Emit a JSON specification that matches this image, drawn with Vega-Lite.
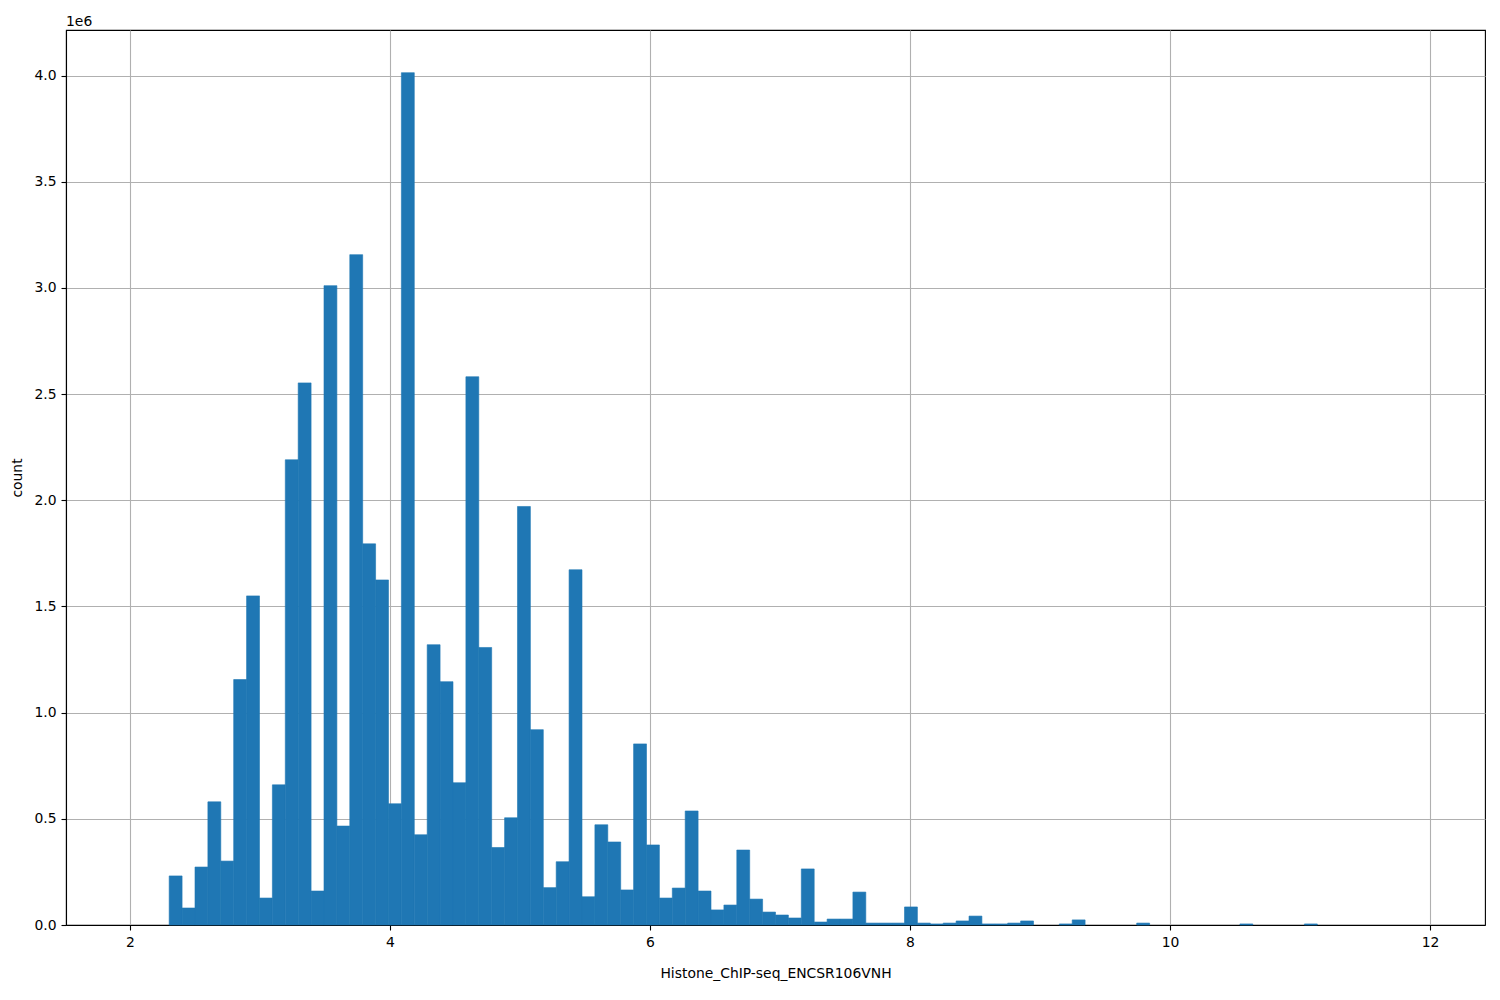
{
  "$schema": "https://vega.github.io/schema/vega-lite/v6.json",
  "width": 1419,
  "height": 895,
  "autosize": {"type": "none"},
  "padding": {"left": 66, "top": 30, "right": 15, "bottom": 75},
  "background": "white",
  "title": {"text": "1e6", "anchor": "start", "frame": "group", "orient": "top", "baseline": "bottom", "offset": -13, "font": "DejaVu Sans", "fontSize": 13.9, "fontWeight": "normal", "color": "black"},
  "config": {
    "view": {"stroke": "black", "strokeWidth": 1.1},
    "axis": {
      "labelFont": "DejaVu Sans", "titleFont": "DejaVu Sans",
      "labelFontSize": 13.9, "titleFontSize": 13.9,
      "labelColor": "black", "titleColor": "black", "titleFontWeight": "normal",
      "grid": true, "gridColor": "#b0b0b0", "gridWidth": 1.1,
      "tickColor": "black", "tickSize": 5, "tickWidth": 1.1,
      "domain": true, "domainColor": "black", "domainWidth": 1.1,
      "labelPadding": 5, "labelFlush": false, "labelOverlap": false, "zindex": 1
    }
  },
  "data": {"values": [
    {"bin_start": 2.3017, "bin_end": 2.4009, "count": 231000},
    {"bin_start": 2.4009, "bin_end": 2.5002, "count": 80000},
    {"bin_start": 2.5002, "bin_end": 2.5994, "count": 273000},
    {"bin_start": 2.5994, "bin_end": 2.6986, "count": 580000},
    {"bin_start": 2.6986, "bin_end": 2.7978, "count": 301000},
    {"bin_start": 2.7978, "bin_end": 2.8971, "count": 1156000},
    {"bin_start": 2.8971, "bin_end": 2.9963, "count": 1550000},
    {"bin_start": 2.9963, "bin_end": 3.0955, "count": 127000},
    {"bin_start": 3.0955, "bin_end": 3.1948, "count": 660000},
    {"bin_start": 3.1948, "bin_end": 3.2940, "count": 2191000},
    {"bin_start": 3.2940, "bin_end": 3.3932, "count": 2553000},
    {"bin_start": 3.3932, "bin_end": 3.4925, "count": 160000},
    {"bin_start": 3.4925, "bin_end": 3.5917, "count": 3011000},
    {"bin_start": 3.5917, "bin_end": 3.6909, "count": 466000},
    {"bin_start": 3.6909, "bin_end": 3.7901, "count": 3157000},
    {"bin_start": 3.7901, "bin_end": 3.8894, "count": 1795000},
    {"bin_start": 3.8894, "bin_end": 3.9886, "count": 1625000},
    {"bin_start": 3.9886, "bin_end": 4.0878, "count": 571000},
    {"bin_start": 4.0878, "bin_end": 4.1871, "count": 4014000},
    {"bin_start": 4.1871, "bin_end": 4.2863, "count": 425000},
    {"bin_start": 4.2863, "bin_end": 4.3855, "count": 1320000},
    {"bin_start": 4.3855, "bin_end": 4.4848, "count": 1146000},
    {"bin_start": 4.4848, "bin_end": 4.5840, "count": 670000},
    {"bin_start": 4.5840, "bin_end": 4.6832, "count": 2582000},
    {"bin_start": 4.6832, "bin_end": 4.7824, "count": 1307000},
    {"bin_start": 4.7824, "bin_end": 4.8817, "count": 365000},
    {"bin_start": 4.8817, "bin_end": 4.9809, "count": 505000},
    {"bin_start": 4.9809, "bin_end": 5.0801, "count": 1971000},
    {"bin_start": 5.0801, "bin_end": 5.1794, "count": 920000},
    {"bin_start": 5.1794, "bin_end": 5.2786, "count": 176000},
    {"bin_start": 5.2786, "bin_end": 5.3778, "count": 298000},
    {"bin_start": 5.3778, "bin_end": 5.4771, "count": 1673000},
    {"bin_start": 5.4771, "bin_end": 5.5763, "count": 133000},
    {"bin_start": 5.5763, "bin_end": 5.6755, "count": 472000},
    {"bin_start": 5.6755, "bin_end": 5.7747, "count": 391000},
    {"bin_start": 5.7747, "bin_end": 5.8740, "count": 165000},
    {"bin_start": 5.8740, "bin_end": 5.9732, "count": 853000},
    {"bin_start": 5.9732, "bin_end": 6.0724, "count": 377000},
    {"bin_start": 6.0724, "bin_end": 6.1717, "count": 127000},
    {"bin_start": 6.1717, "bin_end": 6.2709, "count": 174000},
    {"bin_start": 6.2709, "bin_end": 6.3701, "count": 537000},
    {"bin_start": 6.3701, "bin_end": 6.4694, "count": 160000},
    {"bin_start": 6.4694, "bin_end": 6.5686, "count": 71000},
    {"bin_start": 6.5686, "bin_end": 6.6678, "count": 94000},
    {"bin_start": 6.6678, "bin_end": 6.7670, "count": 353000},
    {"bin_start": 6.7670, "bin_end": 6.8663, "count": 122000},
    {"bin_start": 6.8663, "bin_end": 6.9655, "count": 61000},
    {"bin_start": 6.9655, "bin_end": 7.0647, "count": 47000},
    {"bin_start": 7.0647, "bin_end": 7.1640, "count": 33000},
    {"bin_start": 7.1640, "bin_end": 7.2632, "count": 264000},
    {"bin_start": 7.2632, "bin_end": 7.3624, "count": 14000},
    {"bin_start": 7.3624, "bin_end": 7.4617, "count": 28000},
    {"bin_start": 7.4617, "bin_end": 7.5609, "count": 28000},
    {"bin_start": 7.5609, "bin_end": 7.6601, "count": 155000},
    {"bin_start": 7.6601, "bin_end": 7.7593, "count": 9000},
    {"bin_start": 7.7593, "bin_end": 7.8586, "count": 9000},
    {"bin_start": 7.8586, "bin_end": 7.9578, "count": 9000},
    {"bin_start": 7.9578, "bin_end": 8.0570, "count": 85000},
    {"bin_start": 8.0570, "bin_end": 8.1563, "count": 9000},
    {"bin_start": 8.1563, "bin_end": 8.2555, "count": 5000},
    {"bin_start": 8.2555, "bin_end": 8.3547, "count": 9000},
    {"bin_start": 8.3547, "bin_end": 8.4540, "count": 19000},
    {"bin_start": 8.4540, "bin_end": 8.5532, "count": 42000},
    {"bin_start": 8.5532, "bin_end": 8.6524, "count": 5000},
    {"bin_start": 8.6524, "bin_end": 8.7516, "count": 5000},
    {"bin_start": 8.7516, "bin_end": 8.8509, "count": 9000},
    {"bin_start": 8.8509, "bin_end": 8.9501, "count": 19000},
    {"bin_start": 9.1486, "bin_end": 9.2478, "count": 5000},
    {"bin_start": 9.2478, "bin_end": 9.3470, "count": 24000},
    {"bin_start": 9.7439, "bin_end": 9.8432, "count": 9000},
    {"bin_start": 10.5378, "bin_end": 10.6370, "count": 5000},
    {"bin_start": 11.0339, "bin_end": 11.1332, "count": 5000}
  ]},
  "mark": {"type": "bar", "color": "#1f77b4", "stroke": "#1f77b4", "strokeWidth": 0.6},
  "encoding": {
    "x": {
      "field": "bin_start", "type": "quantitative",
      "scale": {"domain": [1.508, 12.423], "nice": false, "zero": false},
      "axis": {"values": [2, 4, 6, 8, 10, 12], "format": "d", "title": "Histone_ChIP-seq_ENCSR106VNH", "titlePadding": 18}
    },
    "x2": {"field": "bin_end"},
    "y": {
      "field": "count", "type": "quantitative",
      "scale": {"domain": [0, 4215000], "nice": false},
      "axis": {"values": [0, 500000, 1000000, 1500000, 2000000, 2500000, 3000000, 3500000, 4000000], "labelExpr": "format(datum.value / 1000000, '.1f')", "title": "count", "titlePadding": 9}
    },
    "y2": {"datum": 0}
  }
}
